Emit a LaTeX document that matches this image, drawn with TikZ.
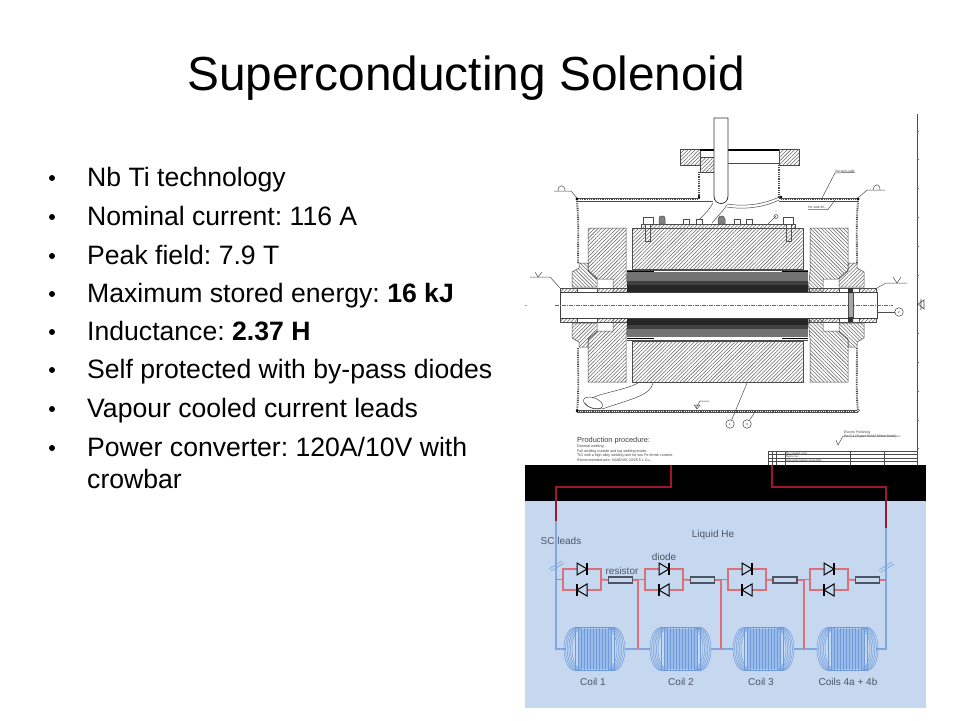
\documentclass[tikz,border=0pt]{standalone}
\usepackage{fontspec}
\setmainfont{Liberation Sans}
\usetikzlibrary{patterns.meta}
\definecolor{heblue}{HTML}{C6D8EF}
\definecolor{wireblue}{HTML}{7FA8E0}
\definecolor{wirered}{HTML}{D9717A}
\definecolor{leadred}{HTML}{A0162A}
\definecolor{coilfill}{HTML}{98BAE8}
\definecolor{coilline}{HTML}{6F9BDC}
\definecolor{label}{HTML}{4C5663}
\frenchspacing
\tikzset{
  x=1pt,y=-1pt,
  titletext/.style={anchor=base west,inner sep=0pt,font=\fontsize{47.8}{52}\selectfont},
  bullettext/.style={anchor=base west,inner sep=0pt,font=\fontsize{26.6}{33}\selectfont},
  hatchA/.style={draw=black!70,line width=.5pt,pattern={Lines[angle=45,distance=2.6pt,line width=.55pt]},pattern color=black!60},
  hatchB/.style={draw=black!70,line width=.5pt,pattern={Lines[angle=135,distance=2.6pt,line width=.55pt]},pattern color=black!60},
  wall/.style={draw=black!70,line width=1.9pt,dash pattern=on .9pt off .9pt},
  thin line/.style={draw=black!70,line width=.5pt},
  balloon/.style={circle,draw=black!75,line width=.5pt,minimum size=8.5pt,inner sep=0pt,font=\fontsize{3}{3}\selectfont},
  tinytext/.style={anchor=base west,inner sep=0pt,text=black!75},
  hewire/.style={wireblue,line width=1.7pt},
  redwire/.style={wirered,line width=1.8pt},
  leadwire/.style={leadred,line width=1.8pt},
  resbox/.style={draw=label,fill=heblue,line width=1.1pt,minimum width=24pt,minimum height=6pt,inner sep=0pt},
  circlabel/.style={text=label,inner sep=0pt,font=\fontsize{10}{12}\selectfont},
}
% one quadrant of the magnet: block hatch, flange hatch
\newcommand{\quadpiece}[2]{%
  \draw[#1] (588,228) -- (626,228) -- (626,272) -- (628,292) -- (613,292) -- (613,279) -- (598,279) -- (588,270) -- cycle;
  \draw[#2] (584,263) -- (588,263) -- (588,271) -- (597,279) -- (597,287) -- (572,287) -- (572,272) -- (579,268) -- (579,263) -- cycle;
  \draw[hatchA] (560,288) rectangle (577,292);
  \draw[thin line,fill=white] (577,288) rectangle (597,292);
  \draw[hatchA] (597,288) rectangle (627,292);
}
\begin{document}
\begin{tikzpicture}
\useasboundingbox (0,0) rectangle (960,720);
\fill[white] (0,0) rectangle (960,720);
% ---- title and bullets
\node[titletext] (title) at (187,90) {Superconducting Solenoid};
\foreach \nm/\yy/\tx in {
 b1/186/{Nb Ti technology},
 b2/225/{Nominal current: 116 A},
 b3/264/{Peak field: 7.9 T},
 b4/302/{Maximum stored energy: \textbf{16 kJ}},
 b5/340/{Inductance: \textbf{2.37 H}},
 b6/378/{Self protected with by-pass diodes},
 b7/417/{Vapour cooled current leads},
 b8/456/{Power converter: 120A/10V with},
 b9/488/{crowbar}}{
  \node[bullettext] (\nm) at (87,\yy) {\tx};
}
\foreach \yy in {186,225,264,302,340,378,417,456}{
  \fill (52,\yy-8) circle (3);
}
% ---- drawing: neck and flange
\draw[hatchA] (680,149) rectangle (700,165);
\draw[hatchA] (779,149) rectangle (799,165);
\draw[hatchA] (700,157) rectangle (714,172);
\draw[black,line width=1.2pt] (700,150) -- (779,150);
\draw[thin line] (728,163) -- (779,163);
\draw[wall] (699,172) -- (699,198);
\draw[wall] (779,165) -- (779,198);
% top plate
\draw[thin line] (577,198) -- (700,198) (779,198) -- (858,198);
\draw[thin line] (577,201) -- (713,201) (779,201) -- (858,201);
\draw[black!70,line width=1.9pt,dash pattern=on .9pt off .9pt] (580,199.5) -- (698,199.5) (781,199.5) -- (856,199.5);
\fill (577,199) circle (1.6) (699,197) circle (1.3) (781,197) circle (1.3) (858,199) circle (1.6);
% tube
\draw[black!80,line width=.8pt,fill=white] (714,118) -- (714,196) .. controls (714,206) and (728,206) .. (728,196) -- (728,118) -- cycle;
\draw[thin line] (713,203) .. controls (708,212) and (703,215) .. (697,222);
\draw[thin line] (727,205) .. controls (722,212) and (718,216) .. (712,223);
\draw[thin line] (727,204) .. controls (745,207) and (765,204) .. (779,197);
\draw[thin line] (727,207) .. controls (745,210) and (765,207) .. (779,200);
% side walls
\draw[wall] (577,201) .. controls (579,225) and (578,240) .. (578,263);
\draw[wall] (858,201) .. controls (856,225) and (857,240) .. (857,263);
\draw[wall] (578,348) .. controls (578,370) and (579,395) .. (577,410);
\draw[wall] (857,348) .. controls (857,370) and (856,395) .. (858,410);
% top cover plate with bolts
\draw[hatchA] (641,224) rectangle (795,228);
\draw[thin line,fill=white] (643,217) rectangle (653,224);
\draw[thin line,fill=white] (783,217) rectangle (793,224);
\draw[thin line,fill=white] (645,224) rectangle (650,241);
\draw[thin line,fill=white] (786,224) rectangle (791,241);
\draw[thin line,fill=black!50] (659,219) -- (660,216) -- (664,216) -- (665,219) -- (665,224) -- (659,224) -- cycle;
\draw[thin line,fill=black!50] (718,219) -- (720,216) -- (723,216) -- (725,219) -- (725,224) -- (718,224) -- cycle;
\foreach \xx in {683,696,734,746}{
  \draw[thin line,fill=white] (\xx,219) rectangle (\xx+6,224);
}
\draw[thin line] (768,224) -- (776,216);
\draw[thin line] (776,216.5) circle (2);
% blocks
\draw[hatchA] (632,228) rectangle (803,269);
\draw[hatchA] (632,341) rectangle (803,382);
\begin{scope}
  \quadpiece{hatchA}{hatchB}
\end{scope}
\begin{scope}[shift={(1436,0)},xscale=-1]
  \quadpiece{hatchB}{hatchA}
\end{scope}
\begin{scope}[shift={(0,610)},yscale=-1]
  \quadpiece{hatchA}{hatchA}
\end{scope}
\begin{scope}[shift={(1436,610)},xscale=-1,yscale=-1]
  \quadpiece{hatchB}{hatchB}
\end{scope}
% coil windings
\fill[black!55] (627,272) rectangle (808,281);
\fill[black!75] (627,281) rectangle (808,285);
\fill[black!85] (627,285) rectangle (808,292);
\fill[black!85] (627,318) rectangle (808,325);
\fill[black!75] (627,325) rectangle (808,329);
\fill[black!55] (627,329) rectangle (808,337);
\draw[black,line width=1pt] (627,271) -- (654,271) (782,271) -- (808,271);
\draw[black,line width=1pt] (627,338) -- (654,338) (782,338) -- (808,338);
\draw[thin line] (627,270) -- (808,270) (627,340) -- (808,340);
% bore
\draw[black!75,line width=.7pt,fill=white] (560,292) rectangle (877,318);
\draw[black!60,line width=.6pt,dash pattern=on 4pt off 1pt on 1pt off 1pt] (555,305) -- (893,305);
\fill[black!35] (848,292) rectangle (853,318);
\draw[thin line] (848,292) -- (848,318) (853,292) -- (853,318);
\fill[black!80] (848,288) rectangle (853,293) (848,317) rectangle (853,322);
% bottom plate
\draw[thin line] (577,410) -- (858,410) (577,412.5) -- (858,412.5);
\draw[black!70,line width=1.9pt,dash pattern=on .9pt off .9pt] (579,411.2) -- (856,411.2);
\fill (577,411) circle (1.5);
\draw[thin line,fill=white] (858,410.5) circle (1.5);
% finger tube
\draw[thin line] (638,383) .. controls (625,390) and (605,392) .. (592,398);
\draw[thin line] (653,383) .. controls (650,395) and (635,398) .. (602,409);
\draw[thin line,rotate around={-20:(593,403)}] (593,403) ellipse (10 and 5.2);
\draw[thin line] (585,403) .. controls (590,410) and (597,409) .. (602,408);
% balloons
\node[balloon] (ball1) at (730,424) {1};
\node[balloon] (ball3) at (747,424) {3};
\node[balloon] (ball2) at (899,312) {2};
\coordinate (lead1) at (747,383);
\coordinate (lead3) at (755,412);
\coordinate (lead2) at (877,312);
\draw[thin line] (lead1) -- (ball1);
\draw[thin line] (lead3) -- (ball3);
\draw[thin line] (lead2) -- (ball2);
% callouts
\node[tinytext,font=\fontsize{3.4}{4}\selectfont] (vac) at (835,172) {Vacuum side};
\coordinate (vacend) at (822,198);
\draw[thin line] (vacend) -- (835,173) -- (vac.south east);
\node[tinytext,font=\fontsize{3.4}{4}\selectfont] (he) at (808,208.5) {He side 4K};
\coordinate (heend) at (835,200);
\draw[thin line] (heend) -- (828,209.5) -- (808,209.5);
% weld symbols
\foreach \xa/\ya/\xb/\yb/\xc in {
  577/198/571/191/554, 858/198/867/190/885, 560/288/550/277/530, 877/288/886/283/907}{
  \draw[thin line] (\xa,\ya) -- (\xb,\yb) -- (\xc,\yb);
}
\draw[thin line] (558,191) .. controls (558,184) and (565,184) .. (565,191);
\draw[thin line] (873,190) .. controls (874,183) and (880,183) .. (880,190);
\draw[thin line] (538,277) -- (542,272) (538,277) -- (535,272);
\draw[thin line] (897,283) -- (901,277) (897,283) -- (893,277);
\draw[thin line] (696,408) -- (700,401) -- (709,401);
\draw[thin line] (694,405) -- (697,409) -- (700,405) -- cycle;
% right frame and ticks
\draw[black!70,line width=.6pt] (917,114) -- (917,465);
\foreach \yy in {131,159,188,217,246,275,333,362,391,420,448}{
  \draw[black!60,line width=.4pt] (917,\yy) -- (919,\yy);
}
\draw[black!70,line width=.6pt] (918,304) -- (924,300) -- (924,309) -- cycle (921,299) -- (921,310);
\draw[black!40,line width=.5pt] (525,305) -- (527,305);
% production text
\node[tinytext,font=\fontsize{7.4}{9}\selectfont] (prod) at (577,442) {Production procedure:};
\node[tinytext,font=\fontsize{3.65}{4.4}\selectfont,align=left,anchor=north west] (prodb) at (577,445)
 {General welding:\\Full welding outside and lug welding inside.\\TIG with a high alloy welding wire for low Fe-ferrite content.\\Recommended wire: SANDVIK 20/25.5 L Cu.};
\node[tinytext,font=\fontsize{3.5}{4.2}\selectfont,align=left,anchor=north west] (polish) at (844,431)
 {Electro Polishing\\Ra 0,1 (Super finish/ Mirror finish)};
\draw[thin line] (836,440) -- (838,445) -- (843,436) -- (900,436);
% title block
\draw[black!70,line width=.4pt] (768,451) -- (917,451) (768,454.5) -- (917,454.5) (768,458) -- (917,458) (768,461.5) -- (917,461.5) (768,451) -- (768,465);
\foreach \xx in {772,776,785,850,884}{\draw[black!70,line width=.4pt] (\xx,451) -- (\xx,465);}
\node[tinytext,font=\fontsize{2.8}{3}\selectfont] (tb1) at (786,454) {file created: xxxx};
\node[tinytext,font=\fontsize{2.8}{3}\selectfont] (tb2) at (786,457.5) {Name rev.};
\node[tinytext,font=\fontsize{2.8}{3}\selectfont] (tb3) at (786,461) {Solenoide Magnet Assembly};
% ---- circuit background
\fill[black] (525,465) rectangle (926,501);
\fill[heblue] (525,501) rectangle (926,708);
% leads
\coordinate (topL) at (671,465);
\coordinate (topR) at (772,465);
\coordinate (kneeL) at (671,487);
\coordinate (kneeR) at (772,487);
\coordinate (leftH) at (556,487);
\coordinate (rightH) at (886,487);
\coordinate (leftE) at (556,521);
\coordinate (rightE) at (886,528);
\coordinate (leftB) at (556,649);
\coordinate (rightB) at (886,649);
\draw[hewire] (leftE) -- (leftB) -- (566,649);
\draw[hewire] (rightE) -- (rightB) -- (876,649);
\draw[leadwire] (topL) -- (kneeL) -- (leftH) -- (leftE);
\draw[leadwire] (topR) -- (kneeR) -- (rightH) -- (rightE);
% breaks
\draw[wireblue,line width=.7pt] (549,569) -- (562,561) (551,571) -- (564,563);
\draw[wireblue,line width=.7pt] (879,570) -- (892,562) (881,572) -- (894,564);
% bus along coils
\foreach \xa/\xb in {625/650,711/733,794/817}{
  \draw[hewire] (\xa,649) -- (\xb,649);
}
% coils
\foreach \nm/\xl/\txt/\xt in {c1/564/Coil 1/593,c2/650/Coil 2/681,c3/733/Coil 3/761,c4/817/Coils 4a + 4b/848}{
  \fill[coilfill] (\xl+14,629) rectangle (\xl+47,669);
  \foreach \k in {0,...,5}{
    \draw[coilline,line width=.5pt] (\xl+11+\k*1.6,627.5) arc[start angle=-90,delta angle=-180,x radius=11,y radius=21.5];
    \draw[coilline,line width=.5pt] (\xl+50-\k*1.6,627.5) arc[start angle=-90,delta angle=180,x radius=11,y radius=21.5];
    \draw[coilline,line width=.5pt] (\xl+11+\k*1.6,627.5) -- (\xl+50-\k*1.6,627.5);
    \draw[coilline,line width=.5pt] (\xl+11+\k*1.6,670.5) -- (\xl+50-\k*1.6,670.5);
  }
  \foreach \k in {0,...,13}{
    \draw[coilline,line width=.7pt] (\xl+11+\k*3,627) -- (\xl+11+\k*3,671);
  }
  \node[circlabel] (\nm) at (\xt,682) {\txt};
}
% diode cells
\foreach \nm/\xl/\rx/\vx/\prev in {a/563/620.5/638/556,b/645/702.5/721/638,c/728/785/804/721,d/810/867.5/886/804}{
  \coordinate (\nm L) at (\xl,579.5);
  \coordinate (\nm R) at (\xl+38,579.5);
  \node[resbox] (\nm res) at (\rx,580) {};
  \draw[redwire] (\prev,579.5) -- (\nm L);
  \draw[redwire] (\xl,569) rectangle (\xl+38,590);
  \draw[redwire] (\nm R) -- (\nm res.west);
  \draw[redwire] (\nm res.east) -- (\vx,580);
  % top diode (points right)
  \draw[label,line width=1pt,fill=heblue] (\xl+14,563) -- (\xl+24,569) -- (\xl+14,575) -- cycle;
  \draw[label,line width=1.3pt] (\xl+24,563) -- (\xl+24,575);
  % bottom diode (points left)
  \draw[label,line width=1pt,fill=heblue] (\xl+24,584) -- (\xl+14,590) -- (\xl+24,596) -- cycle;
  \draw[label,line width=1.3pt] (\xl+14,584) -- (\xl+14,596);
}
\foreach \vx in {638,721,804}{
  \draw[redwire] (\vx,580) -- (\vx,649);
}
% labels
\node[circlabel] (lhe) at (713,535) {Liquid He};
\node[circlabel] (sc) at (561,541) {SC leads};
\node[circlabel] (dio) at (664,557) {diode};
\node[circlabel] (resl) at (622,571) {resistor};
\end{tikzpicture}
\end{document}
